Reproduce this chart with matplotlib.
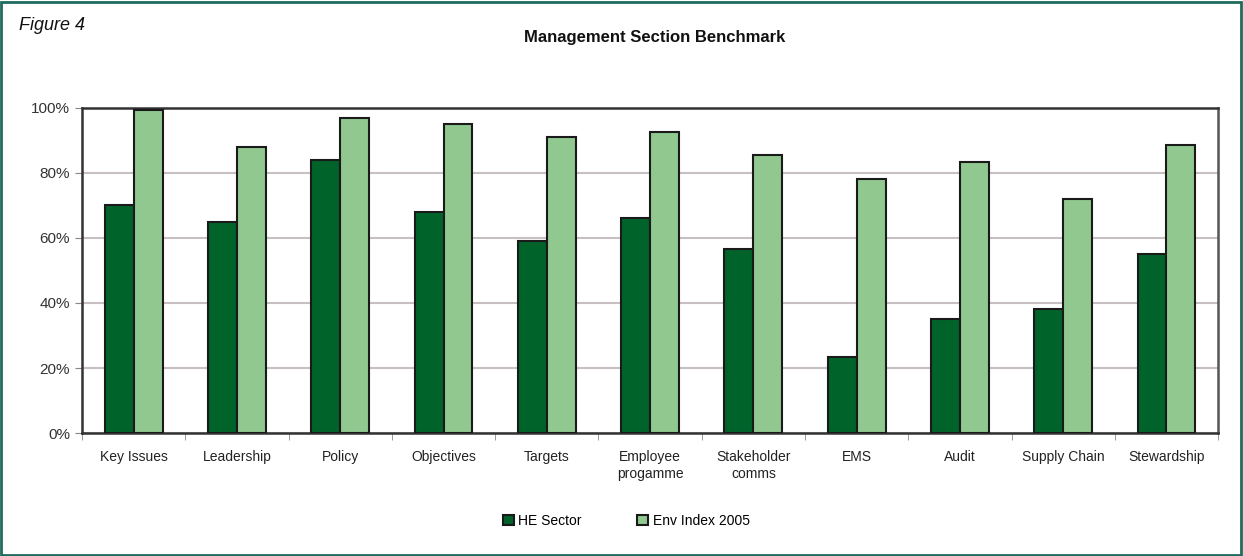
import matplotlib.pyplot as plt
import numpy as np
from matplotlib.patches import Rectangle

categories = ['Key Issues', 'Leadership', 'Policy', 'Objectives', 'Targets',
              'Employee\nprogamme', 'Stakeholder\ncomms', 'EMS', 'Audit',
              'Supply Chain', 'Stewardship']
he_sector = [70, 65, 84, 68, 59, 66, 56.5, 23.5, 35, 38, 55]
env_index = [99.5, 88, 97, 95, 91, 92.5, 85.5, 78, 83.5, 72, 88.5]

dark = '#00632a'
light = '#90c890'

plt.rcParams['font.family'] = ['Liberation Sans', 'DejaVu Sans']

fig = plt.figure(figsize=(12.43, 5.56), dpi=100)
ax = fig.add_axes([0.066, 0.2212, 0.914, 0.5846])

x = np.arange(len(categories))
w = 0.28
ax.bar(x - w / 2, he_sector, w, color=dark, edgecolor='#1a1a1a', linewidth=1.5,
       label='HE Sector', zorder=3)
ax.bar(x + w / 2, env_index, w, color=light, edgecolor='#1a1a1a', linewidth=1.5,
       label='Env Index 2005', zorder=3)

ax.set_xlim(-0.5, len(categories) - 0.5)
ax.set_ylim(0, 100)
ax.set_yticks(np.arange(0, 101, 20))
ax.set_yticklabels([f'{v}%' for v in range(0, 101, 20)], fontsize=11, color='#333333')
ax.yaxis.grid(True, color='#c8c0c0', linewidth=1.5, zorder=0)
ax.set_xticks(x)
ax.set_xticklabels(categories, fontsize=10, color='#222222', linespacing=1.3)
ax.tick_params(axis='x', length=0, pad=12)
ax.set_xticks(np.arange(-0.5, len(categories), 1), minor=True)
ax.tick_params(axis='x', which='minor', length=5, color='#888888')
ax.tick_params(axis='y', length=5, color='#888888')
for s in ax.spines.values():
    s.set_color('#333333')
    s.set_linewidth(1.8)
ax.spines['right'].set_color('#555555')

fig.text(0.015, 0.955, 'Figure 4', fontsize=13, style='italic', color='#111111',
         va='center', ha='left')
fig.text(0.527, 0.932, 'Management Section Benchmark', fontsize=12,
         fontweight='bold', color='#111111', ha='center', va='center')

ax.legend(loc='center', bbox_to_anchor=(0.479, -0.27), ncol=2, frameon=False,
          fontsize=10, handlelength=0.8, handleheight=0.8, columnspacing=4,
          handletextpad=0.3)

fig.patches.append(Rectangle((0.001, 0.002), 0.997, 0.995, transform=fig.transFigure,
                             fill=False, edgecolor='#1f6b5e', linewidth=2))

fig.savefig('out.png', dpi=100)
